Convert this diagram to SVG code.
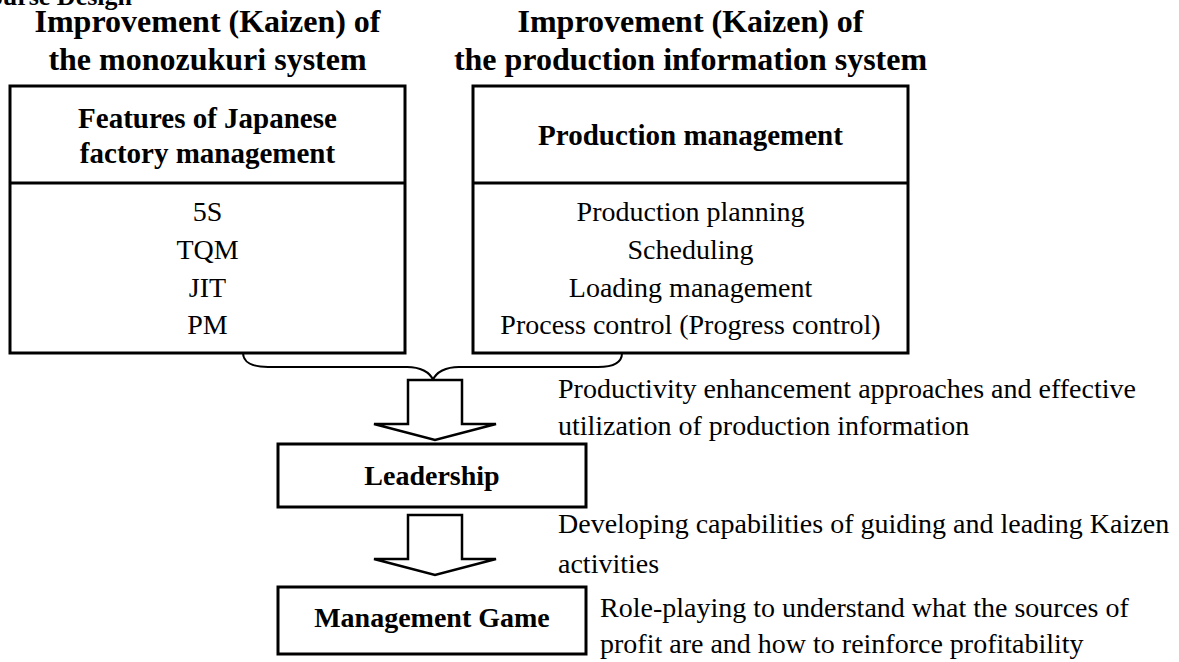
<svg xmlns="http://www.w3.org/2000/svg" width="1179" height="662" viewBox="0 0 1179 662">
<style>
text{font-family:"Liberation Serif","Tinos","Times New Roman","Nimbus Roman","DejaVu Serif",serif;fill:#000}
.hd{font-size:32px;font-weight:bold;text-anchor:middle}
.bt{font-size:29px;font-weight:bold;text-anchor:middle}
.bt2{font-size:28px;font-weight:bold;text-anchor:middle}
.it{font-size:28px;text-anchor:middle}
.sd{font-size:28px}
.box{fill:#fff;stroke:#000;stroke-width:3}
.ln{fill:none;stroke:#000;stroke-width:3}
.br{fill:none;stroke:#000;stroke-width:2}
.ar{fill:#fff;stroke:#000;stroke-width:2.5;stroke-linejoin:miter}
</style>
<rect width="1179" height="662" fill="#fff"/>
<text x="132" y="5" style="font-size:26px;font-weight:bold;text-anchor:end">Course Design</text>
<g id="header-left">
<text class="hd" x="207.5" y="32">Improvement (Kaizen) of</text>
<text class="hd" x="207.5" y="70">the monozukuri system</text>
</g>
<g id="header-right">
<text class="hd" x="690.5" y="32">Improvement (Kaizen) of</text>
<text class="hd" x="690.5" y="70">the production information system</text>
</g>
<g id="node-japanese">
<rect class="box" x="10" y="86" width="395" height="267"/>
<line class="ln" x1="10" y1="183" x2="405" y2="183"/>
<text class="bt" x="207.5" y="128">Features of Japanese</text>
<text class="bt" x="207.5" y="163">factory management</text>
<text class="it" x="207.5" y="221">5S</text>
<text class="it" x="207.5" y="259">TQM</text>
<text class="it" x="207.5" y="297">JIT</text>
<text class="it" x="207.5" y="334">PM</text>
</g>
<g id="node-production">
<rect class="box" x="473" y="86" width="435" height="267"/>
<line class="ln" x1="473" y1="183" x2="908" y2="183"/>
<text class="bt" x="690.5" y="145">Production management</text>
<text class="it" x="690.5" y="221">Production planning</text>
<text class="it" x="690.5" y="259">Scheduling</text>
<text class="it" x="690.5" y="297">Loading management</text>
<text class="it" x="690.5" y="334">Process control (Progress control)</text>
</g>
<g id="node-leadership">
<rect class="box" x="278" y="444" width="308" height="63"/>
<text class="bt2" x="432" y="485">Leadership</text>
</g>
<g id="node-game">
<rect class="box" x="278" y="587" width="308" height="67"/>
<text class="bt2" x="432" y="627">Management Game</text>
</g>
<g id="connectors">
<path class="br" d="M243,353 C243,362 252,367 268,367 L407,367 C420,367 430,372 433,380 C436,372 446,367 459,367 L598,367 C614,367 622,362 622,353"/>
<polygon class="ar" points="408,380 462,380 462,424 496,424 435,440 374,424 408,424"/>
<polygon class="ar" points="408,515 462,515 462,559 496,559 435,575 374,559 408,559"/>
</g>
<g id="labels">
<text class="sd" x="558" y="398">Productivity enhancement approaches and effective</text>
<text class="sd" x="558" y="435">utilization of production information</text>
<text class="sd" x="558" y="533">Developing capabilities of guiding and leading Kaizen</text>
<text class="sd" x="558" y="573">activities</text>
<text class="sd" x="600" y="617">Role-playing to understand what the sources of</text>
<text class="sd" x="600" y="653">profit are and how to reinforce profitability</text>
</g>
</svg>
